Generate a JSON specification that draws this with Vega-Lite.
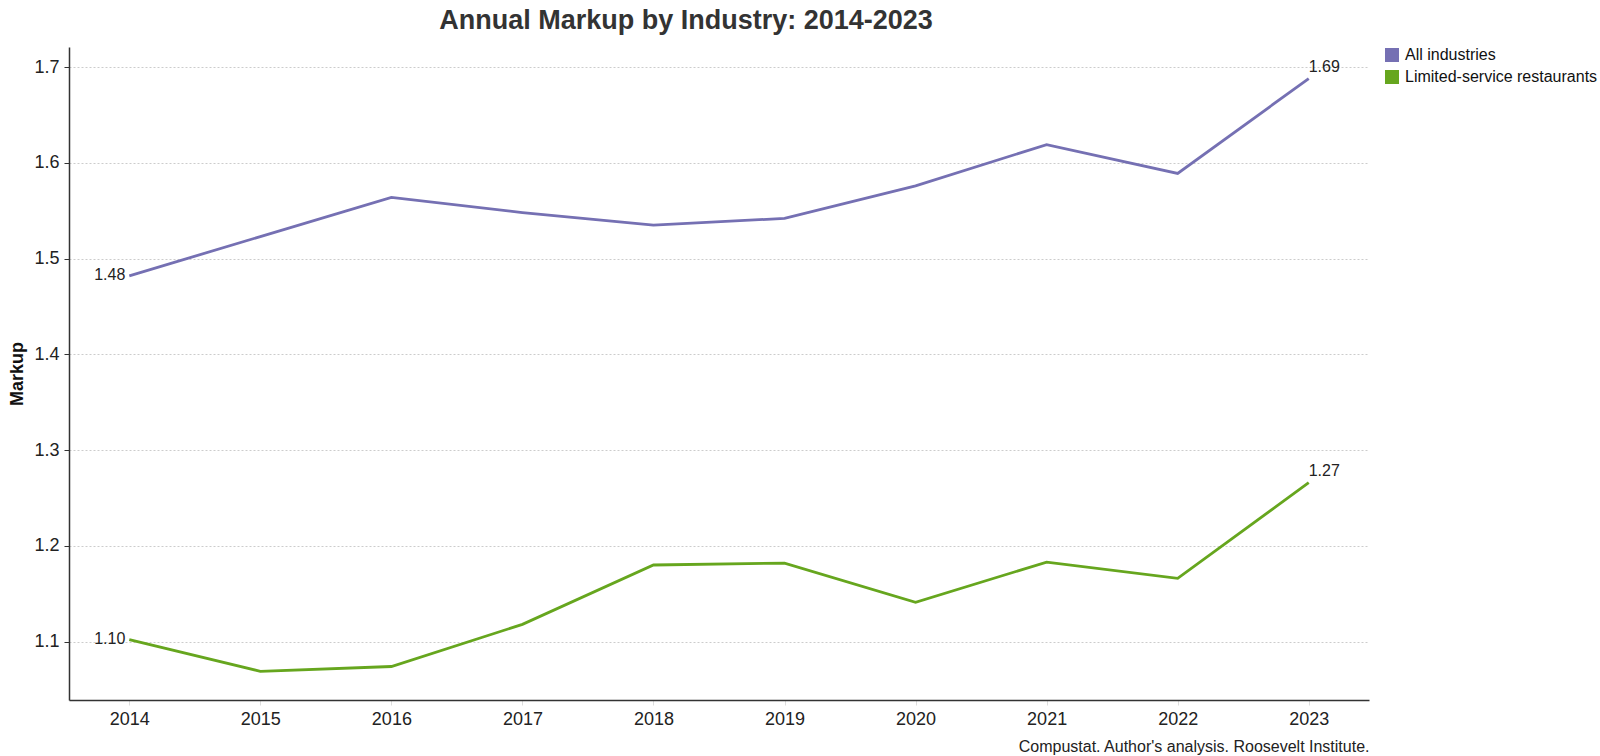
{
  "$schema": "https://vega.github.io/schema/vega-lite/v6.json",
  "width": 1300,
  "height": 653,
  "autosize": {"type": "none"},
  "padding": {"left": 69, "top": 47, "right": 231, "bottom": 56},
  "background": "white",
  "config": {
    "font": "Liberation Sans",
    "view": {"stroke": null},
    "axis": {"domainColor": "#333333", "labelColor": "#222222", "titleColor": "#111111"}
  },
  "title": {
    "text": "Annual Markup by Industry: 2014-2023",
    "fontSize": 27,
    "fontWeight": "bold",
    "color": "#333333",
    "anchor": "middle",
    "frame": "group",
    "dx": -33,
    "offset": 12
  },
  "data": {
    "values": [
      {"year": "2014", "series": "All industries", "markup": 1.482},
      {"year": "2015", "series": "All industries", "markup": 1.523},
      {"year": "2016", "series": "All industries", "markup": 1.564},
      {"year": "2017", "series": "All industries", "markup": 1.548},
      {"year": "2018", "series": "All industries", "markup": 1.535},
      {"year": "2019", "series": "All industries", "markup": 1.542},
      {"year": "2020", "series": "All industries", "markup": 1.576},
      {"year": "2021", "series": "All industries", "markup": 1.619},
      {"year": "2022", "series": "All industries", "markup": 1.589},
      {"year": "2023", "series": "All industries", "markup": 1.688},
      {"year": "2014", "series": "Limited-service restaurants", "markup": 1.102},
      {"year": "2015", "series": "Limited-service restaurants", "markup": 1.069},
      {"year": "2016", "series": "Limited-service restaurants", "markup": 1.074},
      {"year": "2017", "series": "Limited-service restaurants", "markup": 1.118},
      {"year": "2018", "series": "Limited-service restaurants", "markup": 1.180},
      {"year": "2019", "series": "Limited-service restaurants", "markup": 1.182},
      {"year": "2020", "series": "Limited-service restaurants", "markup": 1.141},
      {"year": "2021", "series": "Limited-service restaurants", "markup": 1.183},
      {"year": "2022", "series": "Limited-service restaurants", "markup": 1.166},
      {"year": "2023", "series": "Limited-service restaurants", "markup": 1.266}
    ]
  },
  "encoding": {
    "x": {
      "field": "year",
      "type": "ordinal",
      "scale": {"type": "point", "padding": 0.46},
      "axis": {
        "title": "Compustat. Author's analysis. Roosevelt Institute.",
        "titleAnchor": "end",
        "titleFontSize": 16,
        "titleFontWeight": "normal",
        "titleColor": "#222222",
        "titlePadding": 10,
        "labelAngle": 0,
        "labelFontSize": 18,
        "labelPadding": 5,
        "tickColor": "#dddddd",
        "tickSize": 5,
        "grid": false,
        "domainWidth": 1.5
      }
    },
    "y": {
      "field": "markup",
      "type": "quantitative",
      "scale": {"domain": [1.039, 1.721], "zero": false, "nice": false},
      "axis": {
        "title": "Markup",
        "titleFontSize": 18,
        "titleFontWeight": "bold",
        "titlePadding": 7,
        "values": [1.1, 1.2, 1.3, 1.4, 1.5, 1.6, 1.7],
        "format": ".1f",
        "labelFontSize": 18,
        "labelPadding": 5,
        "tickColor": "#333333",
        "tickSize": 5,
        "grid": true,
        "gridColor": "#cccccc",
        "gridDash": [2, 2],
        "gridWidth": 1,
        "domainWidth": 1.5
      }
    },
    "color": {
      "field": "series",
      "type": "nominal",
      "scale": {"domain": ["All industries", "Limited-service restaurants"], "range": ["#7570b3", "#66a61e"]},
      "legend": {
        "title": null,
        "orient": "right",
        "offset": 15,
        "padding": 0,
        "symbolType": "square",
        "symbolSize": 196,
        "symbolOpacity": 1,
        "labelFontSize": 16,
        "labelColor": "#111111",
        "labelLimit": 400,
        "labelOffset": 5,
        "rowPadding": 6,
        "encode": {
          "symbols": {
            "update": {
              "fill": {"scale": "color", "field": "value"},
              "stroke": {"value": "transparent"},
              "strokeWidth": {"value": 0}
            }
          }
        }
      }
    }
  },
  "layer": [
    {"mark": {"type": "line", "strokeWidth": 2.8}},
    {
      "transform": [{"filter": "datum.year == '2014'"}],
      "mark": {"type": "text", "align": "right", "baseline": "middle", "dx": -4, "dy": -1, "fontSize": 16, "color": "#222222"},
      "encoding": {"text": {"field": "markup", "type": "quantitative", "format": ".2f"}, "color": {"value": "#222222"}}
    },
    {
      "transform": [{"filter": "datum.year == '2023'"}],
      "mark": {"type": "text", "align": "left", "baseline": "bottom", "dx": 0, "dy": -4, "fontSize": 16, "color": "#222222"},
      "encoding": {"text": {"field": "markup", "type": "quantitative", "format": ".2f"}, "color": {"value": "#222222"}}
    }
  ]
}
